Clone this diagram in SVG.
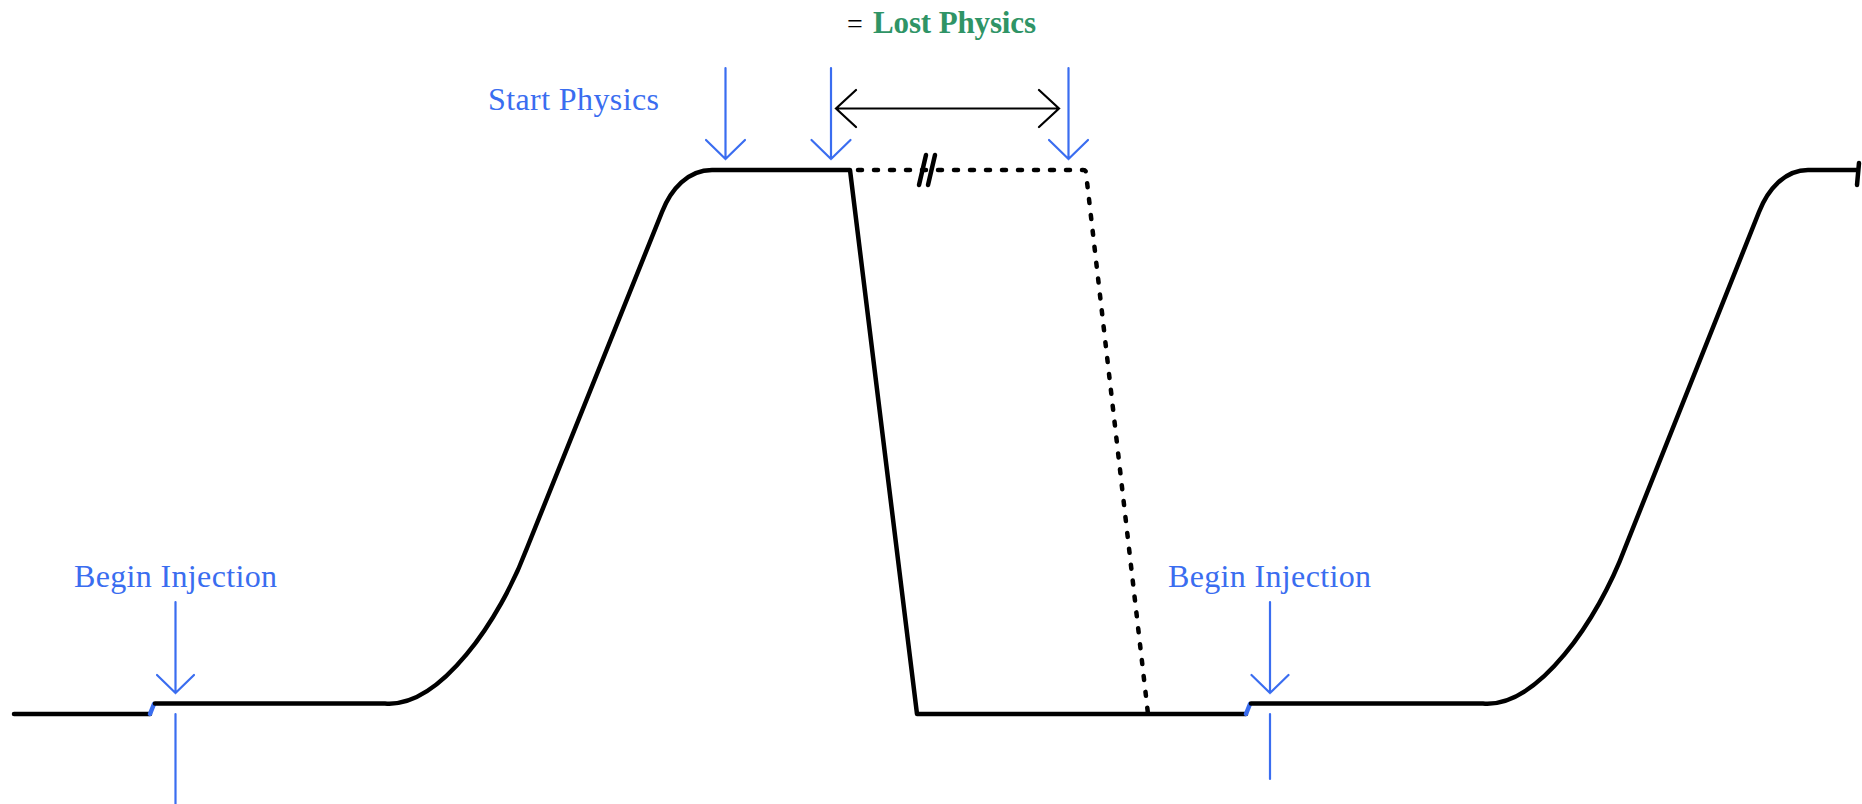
<svg xmlns="http://www.w3.org/2000/svg" width="1862" height="804" viewBox="0 0 1862 804">
<style>
.curve{fill:none;stroke:#000;stroke-width:4.5;stroke-linecap:round;stroke-linejoin:round}
.dash{fill:none;stroke:#000;stroke-width:4.5;stroke-linecap:round;stroke-dasharray:4 12}
.blue{fill:none;stroke:#3a6df0;stroke-width:2.2;stroke-linecap:round;stroke-linejoin:miter}
.step{fill:none;stroke:#3a6df0;stroke-width:4.5;stroke-linecap:round}
.dim{fill:none;stroke:#000;stroke-width:2.2;stroke-linecap:round;stroke-linejoin:miter}
.lbl{font-family:"Liberation Serif","DejaVu Serif",serif;font-size:32px;fill:#3a6df0}
</style>
<rect width="1862" height="804" fill="#fff"/>
<g id="connectors">
  <path class="curve" d="M14,714 L150,714"/>
  <path class="step" d="M150,714 L154,704"/>
  <path class="curve" d="M155,703.5 L385,703.5 C440,708 500,620 527,548 L662,212 C671,189 688,170 712,170 L850,170 L917,714 L1246,714"/>
  <path class="step" d="M1246,714 L1250,704"/>
  <path class="curve" d="M1251,703.5 L1483,703.5 C1538,708 1598,620 1625,548 L1759,212 C1768,189 1785,170 1808,170 L1857,170"/>
  <path class="curve" d="M1859,163 L1857,185"/>
  <path class="dash" d="M858,170 L1083,170 Q1086,170 1086,173 L1148,714"/>
  <path class="curve" d="M919,185 L926,155"/>
  <path class="curve" d="M928,185 L935,155"/>
  <path class="blue" d="M175.5,602 L175.5,693 M157,675 L175.5,693 L194,675"/>
  <path class="blue" d="M175.5,714 L175.5,804"/>
  <path class="blue" d="M1270,602 L1270,693 M1251.5,675 L1270,693 L1288.5,675"/>
  <path class="blue" d="M1270,714 L1270,779"/>
  <path class="blue" d="M725.5,68 L725.5,159 M706,140 L725.5,159 L745,140"/>
  <path class="blue" d="M831,68 L831,159 M811.5,140 L831,159 L850.5,140"/>
  <path class="blue" d="M1068.5,68 L1068.5,159 M1049,140 L1068.5,159 L1088,140"/>
  <path class="dim" d="M836,108.5 L1059,108.5 M856,90 L836,108.5 L856,127 M1039,90 L1059,108.5 L1039,127"/>
</g>
<g id="label-begin-injection-1"><text class="lbl" x="74" y="587" textLength="203" lengthAdjust="spacing">Begin Injection</text></g>
<g id="label-begin-injection-2"><text class="lbl" x="1168" y="587" textLength="203" lengthAdjust="spacing">Begin Injection</text></g>
<g id="label-start-physics"><text class="lbl" x="488" y="110" textLength="171" lengthAdjust="spacing">Start Physics</text></g>
<g id="label-lost-physics"><text x="847" y="33" font-family="Liberation Serif, DejaVu Serif, serif" font-size="28" fill="#000">=</text><text x="873" y="33" font-family="Liberation Serif, DejaVu Serif, serif" font-size="31" font-weight="bold" fill="#2f9466" textLength="163" lengthAdjust="spacing">Lost Physics</text></g>
</svg>
